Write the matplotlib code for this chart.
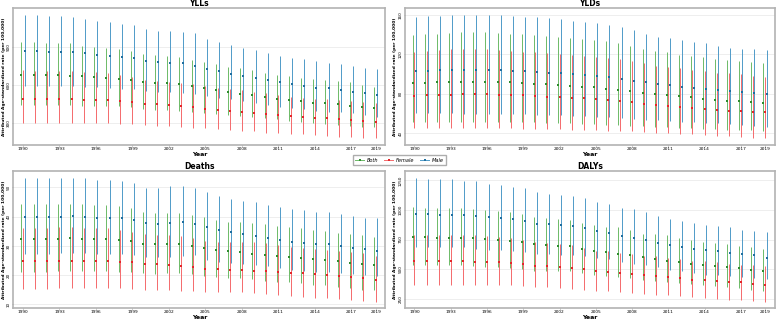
import numpy as np
import matplotlib
matplotlib.use("Agg")
import matplotlib.pyplot as plt
from matplotlib.lines import Line2D

years = np.arange(1990, 2020)
xticks = [1990, 1993, 1996, 1999, 2002, 2005, 2008, 2011, 2014, 2017, 2019]

# YLLs
yll_both = [681,681,677,677,673,669,663,658,650,639,624,618,613,606,592,574,558,542,531,521,505,492,484,474,460,458,448,434,426,416]
yll_both_lo = [442,442,440,440,440,437,434,432,430,425,410,405,400,395,385,377,370,362,355,350,340,329,318,308,298,292,287,276,271,266]
yll_both_hi = [942,942,929,929,929,910,903,895,884,871,845,837,829,819,797,779,763,745,732,716,697,679,671,658,647,639,629,621,600,587]
yll_female = [489,489,487,487,487,484,484,482,476,468,452,450,444,434,424,413,405,395,389,381,371,363,358,347,342,339,332,321,316,305]
yll_female_lo = [298,298,298,298,298,298,298,298,292,292,284,279,276,271,263,258,253,245,240,234,223,218,213,210,203,200,192,187,184,179]
yll_female_hi = [718,713,711,711,711,705,700,692,679,666,639,632,626,618,608,592,579,566,560,547,539,521,508,500,492,487,482,476,465,460]
yll_male = [871,866,861,861,861,853,839,831,821,811,787,782,776,771,752,729,711,689,671,658,640,621,606,592,576,574,560,547,534,523]
yll_male_lo = [595,595,595,595,595,585,580,578,572,565,552,548,542,536,525,512,500,488,472,460,440,424,416,411,398,390,384,376,363,348]
yll_male_hi = [1153,1153,1145,1145,1139,1121,1108,1100,1082,1071,1040,1029,1026,1016,1008,966,942,916,890,876,850,829,816,803,789,776,763,750,737,724]

# YLDs
yld_both = [90.7,91.3,91.7,92.0,92.0,92.0,92.0,92.0,91.7,91.0,90.3,89.7,88.9,88.2,87.2,86.6,85.2,83.9,82.7,81.1,79.8,78.8,77.5,76.5,75.0,74.0,73.0,72.4,71.7,71.0]
yld_both_lo = [51.7,51.7,51.6,51.5,51.5,51.5,51.4,51.4,51.3,51.1,50.8,50.5,50.2,49.9,49.4,49.0,48.6,48.1,47.6,47.0,46.4,45.9,45.3,44.8,44.4,44.0,43.6,43.1,42.7,42.3]
yld_both_hi = [139.7,140.4,140.7,142.0,142.4,142.4,142.4,141.4,140.7,140.4,139.7,138.7,137.4,136.4,135.3,134.6,133.6,131.9,128.5,125.2,123.8,122.8,119.4,118.4,117.1,115.0,114.3,113.3,112.6,111.6]
yld_female = [78.1,78.5,78.8,79.1,79.5,79.5,79.5,79.1,78.8,78.5,77.8,77.1,76.5,75.8,75.5,74.8,74.0,73.0,71.9,70.0,69.0,68.0,66.9,65.9,64.9,63.9,62.9,62.2,61.5,61.2]
yld_female_lo = [45.0,45.0,45.2,45.3,45.3,45.3,45.2,45.0,44.8,44.6,44.3,44.0,43.8,43.5,43.3,43.0,42.6,42.2,41.8,41.2,40.6,40.0,39.4,38.8,38.1,37.5,36.8,36.0,35.2,34.6]
yld_female_hi = [122.8,123.8,124.5,125.2,125.2,125.2,125.2,124.5,123.8,122.8,122.1,121.1,120.4,119.4,118.4,117.1,116.1,115.0,113.6,110.9,108.2,107.5,105.9,104.2,103.2,101.5,100.8,100.1,98.1,97.4]
yld_male = [102.9,103.5,103.9,104.2,104.5,104.5,104.5,104.2,103.5,103.2,102.1,101.4,100.8,100.1,99.1,98.1,96.8,95.0,93.3,91.7,90.3,88.6,87.2,85.9,84.6,83.6,82.6,81.8,81.1,80.1]
yld_male_lo = [60.2,60.2,60.0,60.0,59.8,59.8,59.8,59.6,59.4,59.2,58.8,58.4,58.0,57.6,57.0,56.5,55.9,55.1,54.4,53.7,53.0,52.4,51.7,51.2,50.6,50.0,49.3,48.2,47.3,46.6]
yld_male_hi = [158.3,159.0,159.3,159.7,160.0,160.0,160.0,160.0,159.0,158.3,157.6,156.6,155.6,154.3,153.2,151.6,149.9,147.5,145.0,140.4,138.0,136.3,134.6,132.9,131.3,128.5,126.2,125.2,125.2,124.5]

# Deaths
death_both = [32.4,32.4,32.4,32.5,32.6,32.5,32.3,32.3,32.0,31.7,30.8,30.8,30.8,30.8,30.0,29.3,28.6,28.2,27.8,27.4,27.0,26.5,26.1,25.8,25.4,25.2,24.9,24.3,23.8,23.4]
death_both_lo = [21.2,21.2,21.2,21.4,21.6,21.4,21.4,21.4,21.2,21.0,20.6,20.4,20.6,20.6,20.3,19.9,19.5,19.2,18.9,18.7,18.1,17.8,17.6,17.5,16.7,16.7,16.1,15.5,15.0,15.0]
death_both_hi = [44.5,44.5,44.5,44.3,44.3,44.2,44.0,44.0,43.6,42.8,41.5,41.1,41.1,41.1,40.6,39.8,38.9,38.3,38.3,37.7,37.4,36.8,36.6,36.0,35.4,35.1,34.3,34.0,33.7,33.2]
death_female = [24.7,24.7,24.7,24.9,25.0,24.9,24.7,24.7,24.6,24.4,23.8,23.7,23.5,23.2,22.7,22.2,22.1,21.8,21.8,21.6,21.4,21.0,20.9,20.6,20.4,20.1,19.9,19.4,18.9,18.4]
death_female_lo = [15.3,15.3,15.3,15.5,15.5,15.5,15.5,15.5,15.5,15.3,15.0,15.0,15.0,14.7,14.6,14.4,14.2,14.1,14.1,13.8,13.5,13.3,13.0,12.7,12.3,12.1,11.9,11.5,11.3,11.0]
death_female_hi = [36.2,36.2,36.2,36.5,36.5,36.2,36.0,36.0,35.4,34.9,34.1,33.7,33.7,33.4,32.8,31.7,31.5,31.2,31.2,31.2,30.9,30.3,29.7,29.4,29.0,28.6,28.4,28.0,27.7,26.7]
death_male = [40.0,39.9,39.9,40.0,40.1,40.0,39.6,39.6,39.4,38.9,37.7,37.6,37.9,38.2,37.5,36.5,35.5,34.8,34.0,33.5,32.7,32.0,31.5,31.1,30.5,30.5,30.1,29.4,28.8,28.4]
death_male_lo = [27.2,27.2,27.2,27.7,27.7,27.5,27.2,27.2,27.2,26.9,26.3,26.3,26.3,26.6,26.9,25.2,24.4,24.1,23.8,23.5,23.2,22.4,21.8,21.4,21.2,21.0,20.6,20.4,20.1,19.8]
death_male_hi = [53.3,53.3,53.3,53.3,53.3,53.3,52.7,52.7,52.2,51.4,49.9,49.9,50.5,50.5,49.7,48.3,47.2,46.2,45.4,44.9,44.0,43.4,42.5,42.3,41.7,41.7,40.8,40.2,39.6,39.6]

# DALYs
daly_both = [770,770,767,767,767,761,753,747,739,728,711,705,699,691,674,657,643,626,615,601,587,570,559,545,537,528,520,506,494,486]
daly_both_lo = [531,531,531,531,531,522,517,517,508,503,486,486,480,480,466,447,438,430,424,410,402,388,382,374,368,360,348,340,326,317]
daly_both_hi = [1022,1014,1014,1014,1014,1006,1000,994,980,963,938,930,924,916,888,874,860,855,830,798,795,784,761,747,728,719,711,699,683,671]
daly_female = [565,565,565,565,565,562,559,556,553,542,528,525,520,511,497,486,478,466,458,447,444,430,424,410,404,402,393,388,376,368]
daly_female_lo = [362,362,362,368,368,368,368,368,362,354,345,345,340,334,326,317,312,306,296,289,284,278,270,261,256,250,242,236,228,222]
daly_female_hi = [789,789,789,789,789,784,781,775,761,747,728,719,711,705,677,657,649,640,628,607,607,593,584,565,565,556,542,531,531,522]
daly_male = [966,963,958,958,958,949,938,933,921,907,885,879,874,865,848,823,803,782,762,744,722,705,688,674,660,652,640,626,615,596]
daly_male_lo = [683,683,683,683,683,671,663,663,649,643,626,626,621,615,607,593,587,559,542,537,514,494,480,466,452,452,438,430,424,419]
daly_male_hi = [1272,1261,1258,1258,1247,1244,1219,1211,1194,1183,1149,1135,1126,1121,1098,1070,1048,1020,1010,980,952,924,910,893,874,868,854,830,823,812]

line_col = {"Both": "#6cba67", "Female": "#f46a6c", "Male": "#4f9ac8"}
pt_col = {"Both": "#2e8b2e", "Female": "#e3262a", "Male": "#1f6e9e"}
dodge = {"Both": -0.13, "Female": 0.0, "Male": 0.13}

panels = [
    ("YLLs", [0.017, 0.547, 0.479, 0.428], [300, 600, 900], (126, 1208),
     {"Both": (yll_both, yll_both_lo, yll_both_hi),
      "Female": (yll_female, yll_female_lo, yll_female_hi),
      "Male": (yll_male, yll_male_lo, yll_male_hi)}),
    ("YLDs", [0.521, 0.547, 0.476, 0.428], [40, 80, 120, 160], (28, 167),
     {"Both": (yld_both, yld_both_lo, yld_both_hi),
      "Female": (yld_female, yld_female_lo, yld_female_hi),
      "Male": (yld_male, yld_male_lo, yld_male_hi)}),
    ("Deaths", [0.017, 0.0375, 0.479, 0.428], [10, 20, 30, 40, 50], (8.8, 55.6),
     {"Both": (death_both, death_both_lo, death_both_hi),
      "Female": (death_female, death_female_lo, death_female_hi),
      "Male": (death_male, death_male_lo, death_male_hi)}),
    ("DALYs", [0.521, 0.0375, 0.476, 0.428], [250, 500, 750, 1000, 1250], (171, 1329),
     {"Both": (daly_both, daly_both_lo, daly_both_hi),
      "Female": (daly_female, daly_female_lo, daly_female_hi),
      "Male": (daly_male, daly_male_lo, daly_male_hi)}),
]

fig = plt.figure(figsize=(7.77, 3.2), dpi=100)

for title, rect, yt, ylim, series in panels:
    ax = fig.add_axes(rect)
    for name in ["Both", "Female", "Male"]:
        val, lo, hi = series[name]
        x = years + dodge[name]
        ax.vlines(x, lo, hi, color=line_col[name], lw=0.7, zorder=2)
        ax.plot(x, val, "s", color=pt_col[name], ms=1.8, mew=0, zorder=3)
    ax.set_xlim(1990 - 0.8, 2019 + 0.8)
    ax.set_ylim(*ylim)
    ax.set_xticks(xticks)
    ax.set_xticklabels([str(t) for t in xticks], fontsize=3.1)
    ax.set_yticks(yt)
    ax.set_yticklabels([str(t) for t in yt], fontsize=3.0, rotation=90, va="center")
    ax.tick_params(length=1.0, width=0.4, color="#555555", pad=0.6)
    ax.grid(axis="y", color="#ebebeb", lw=0.6)
    ax.set_axisbelow(True)
    for s in ax.spines.values():
        s.set_color("#b3b3b3")
        s.set_linewidth(1.2)
    ax.set_title(title, fontsize=5.5, fontweight="bold", pad=1.5)
    ax.set_xlabel("Year", fontsize=4.5, fontweight="bold", labelpad=0.5)
    ax.set_ylabel("Attributed Age-standardized rate (per 100,000)", fontsize=3.2,
                  fontweight="bold")
    ax.yaxis.set_label_coords(-0.02, 0.5)

handles = [Line2D([0], [0], color=line_col[n], lw=0.7, marker="s", ms=1.8,
                  markerfacecolor=pt_col[n], markeredgewidth=0) for n in ["Both", "Female", "Male"]]
fig.legend(handles, ["Both", "Female", "Male"], loc="center", bbox_to_anchor=(0.514, 0.5),
           ncol=3, prop={"style": "italic", "size": 3.6}, frameon=True,
           fancybox=False, edgecolor="#999999", handlelength=1.8, columnspacing=1.2,
           borderpad=0.5, handletextpad=0.5)

fig.savefig("out.png", dpi=100)
